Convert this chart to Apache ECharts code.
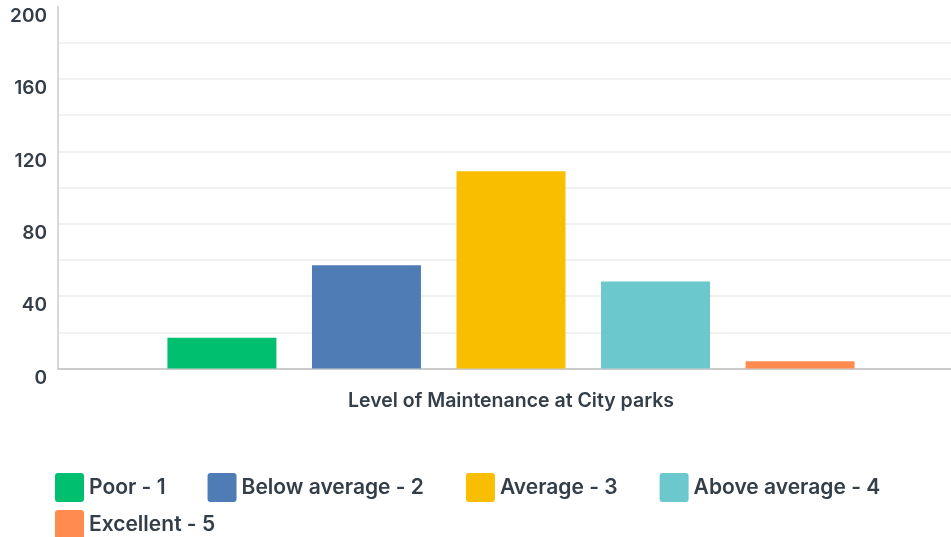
<!DOCTYPE html>
<html>
<head>
<meta charset="utf-8">
<script src="https://cdn.jsdelivr.net/npm/echarts@6/dist/echarts.min.js"></script>
<style>
html,body{margin:0;padding:0;background:#fff;}
#c{width:951px;height:537px;}
</style>
</head>
<body>
<div id="c"></div>
<script>
const categories = ['Level of Maintenance at City parks'];
const seriesNames = ['Poor - 1', 'Below average - 2', 'Average - 3', 'Above average - 4', 'Excellent - 5'];
const values = [17, 57, 109, 48, 4];
const yTickLabels = [0, 40, 80, 120, 160, 200];

const palette = ['#00bf6f', '#507cb6', '#f9be00', '#6bc8cd', '#ff8b4f'];
const textColor = '#333e48';
const font = 'Inter';

const iconPath = 'path://M3,0 H26 Q29,0 29,3 V26 Q29,29 26,29 H3 Q0,29 0,26 V3 Q0,0 3,0 Z';

const gridColors = [];
for (let i = 0; i < 11; i++) gridColors.push(i === 10 ? 'rgba(0,0,0,0)' : '#ededed');

const legendText = {fontSize: 21, color: textColor, fontFamily: font, fontWeight: 600};

const chart = echarts.init(document.getElementById('c'), null, {renderer: 'canvas'});
chart.setOption({
  animation: false,
  color: palette,
  grid: [
    {left: 71, right: 0, top: 6.5, bottom: 168.5},
    {left: 58, right: 0, top: 6.5, bottom: 168.5}
  ],
  legend: [
    {
      data: seriesNames.slice(0, 4),
      left: 55, top: 473, padding: 0,
      itemWidth: 29, itemHeight: 29, itemGap: 42,
      icon: iconPath,
      textStyle: legendText,
      selectedMode: false
    },
    {
      data: seriesNames.slice(4),
      left: 55, top: 510, padding: 0,
      itemWidth: 29, itemHeight: 29, itemGap: 42,
      icon: iconPath,
      textStyle: legendText,
      selectedMode: false
    }
  ],
  xAxis: [
    {
      type: 'category',
      gridIndex: 0,
      data: categories,
      axisTick: {show: false},
      axisLine: {show: false},
      axisLabel: {fontSize: 19.5, color: textColor, fontFamily: font, fontWeight: 600, margin: 23}
    },
    {
      type: 'category',
      gridIndex: 1,
      data: categories,
      axisTick: {show: false},
      axisLabel: {show: false},
      axisLine: {lineStyle: {color: '#cccccc', width: 2}}
    }
  ],
  yAxis: [
    {
      type: 'value',
      gridIndex: 0,
      min: 0, max: 200, interval: 20,
      axisLine: {show: false},
      axisTick: {show: false},
      splitLine: {show: false},
      axisLabel: {show: false}
    },
    {
      type: 'value',
      gridIndex: 1,
      min: 0, max: 200, interval: 20,
      axisLine: {show: true, lineStyle: {color: '#cccccc', width: 1.5}},
      axisTick: {show: false},
      splitLine: {show: true, lineStyle: {color: gridColors, width: 1.5}},
      axisLabel: {
        fontSize: 19, color: textColor, fontFamily: font, fontWeight: 600, margin: 11,
        verticalAlign: 'top',
        formatter: function (v) { return yTickLabels.indexOf(v) >= 0 ? String(v) : ''; }
      }
    }
  ],
  series: seriesNames.map(function (name, i) {
    return {
      name: name,
      type: 'bar',
      xAxisIndex: 0,
      yAxisIndex: 0,
      data: [values[i]],
      barWidth: 109,
      barGap: '32.6%',
      z: 3
    };
  })
});
</script>
</body>
</html>
